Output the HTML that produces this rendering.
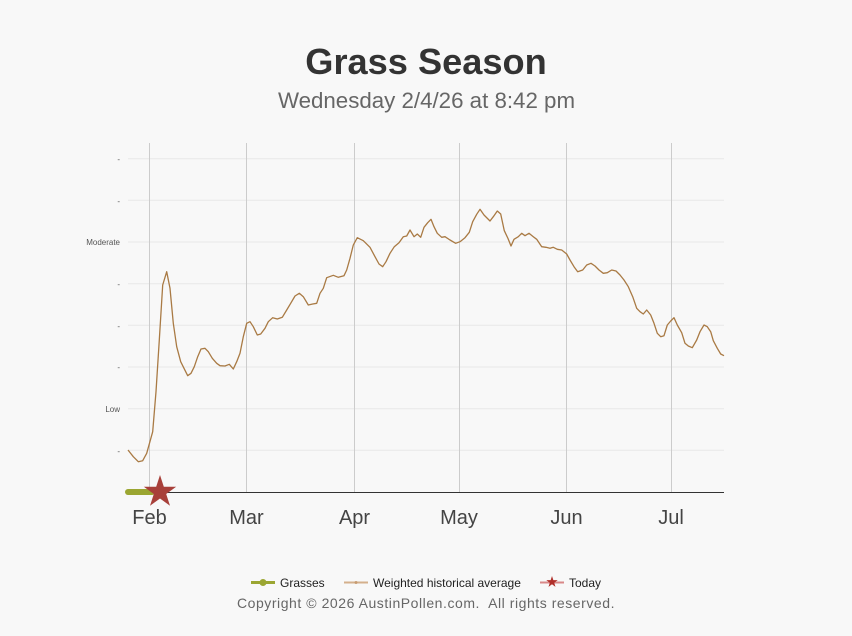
<!DOCTYPE html>
<html><head><meta charset="utf-8"><style>
html,body{margin:0;padding:0;background:#f8f8f8;}
svg{display:block;font-family:"Liberation Sans",Arial,sans-serif;}
</style></head><body>
<svg width="852" height="636" viewBox="0 0 852 636" xmlns="http://www.w3.org/2000/svg">
<rect width="852" height="636" fill="#f8f8f8"/>
<text x="426" y="74" text-anchor="middle" font-size="36.2" font-weight="bold" fill="#333">Grass Season</text>
<text x="426.5" y="108" text-anchor="middle" font-size="22.3" fill="#666">Wednesday 2/4/26 at 8:42 pm</text>
<g stroke="#e8e8e8" stroke-width="1">
<line x1="128" y1="158.7" x2="724" y2="158.7"/>
<line x1="128" y1="200.3" x2="724" y2="200.3"/>
<line x1="128" y1="242" x2="724" y2="242"/>
<line x1="128" y1="283.7" x2="724" y2="283.7"/>
<line x1="128" y1="325.3" x2="724" y2="325.3"/>
<line x1="128" y1="367" x2="724" y2="367"/>
<line x1="128" y1="408.7" x2="724" y2="408.7"/>
<line x1="128" y1="450.3" x2="724" y2="450.3"/>
</g>
<g stroke="#cccccc" stroke-width="1">
<line x1="149.5" y1="143" x2="149.5" y2="492"/>
<line x1="246.5" y1="143" x2="246.5" y2="492"/>
<line x1="354.5" y1="143" x2="354.5" y2="492"/>
<line x1="459.5" y1="143" x2="459.5" y2="492"/>
<line x1="566.5" y1="143" x2="566.5" y2="492"/>
<line x1="671.5" y1="143" x2="671.5" y2="492"/>
</g>
<g font-size="8" fill="#555" text-anchor="end">
<text x="120" y="162">-</text>
<text x="120" y="204">-</text>
<text x="120" y="245">Moderate</text>
<text x="120" y="287">-</text>
<text x="120" y="329">-</text>
<text x="120" y="370">-</text>
<text x="120" y="412">Low</text>
<text x="120" y="454">-</text>
</g>
<line x1="128" y1="492.5" x2="724" y2="492.5" stroke="#333" stroke-width="1"/>
<polyline fill="none" stroke="#a97a44" stroke-width="1.3" stroke-linejoin="round" points="
128,450 133.3,456.7 138.3,461.7 142.7,460.7 146.7,453.3 152.7,431.7 156,391.7 159.3,340 162.7,285 166.7,271.7 170,288.3 173.3,323.3 176.7,346.7 180.7,361.7 184,368.3 187.7,375.7 191,373.3 194.3,366.7 197.7,356.7 201,349 205,348.3 208.3,351.7 212.3,358.3 216.7,363.3 220,365.7 225,366 229.3,364.3 233.3,369 236.7,361.7 240,353.3 243.3,336.7 246.7,323.3 250,321.7 253.3,326.7 257.3,335 260.7,334 265,328.3 268.3,321.7 272.7,317.7 277.3,319 282.3,317.3 286.7,310 290.7,303.3 295,296 299.3,293.3 303.3,296.7 308.3,305 312.7,304 316.7,303.3 320,293.3 323.3,288.3 326.7,277.7 333.3,275.3 338.3,277.3 344,275.7 346.7,270 350,258.3 353.3,245 357.3,237.7 363.3,240.7 370,247.3 375,256.7 379,264 382.7,266.7 386,261.7 390,253.3 394.3,246.7 399,242.7 403.3,236.7 406.7,236 410,230 414,236.7 417.3,234 420.7,237.3 424,227.3 427.7,222.7 431,219.3 434,226.7 437.3,233.3 441.7,237.3 445,236.7 450,240 455.7,243.3 460,241.7 465,237.7 469.3,232.3 472.7,221.7 476.7,214.3 480,209.3 484,215 490,221 493.3,216.7 497.3,211 500.7,214 504.3,230.7 508,238.5 511,246 514,239.3 518.3,236.7 521.7,233.3 525,235.7 529,233.3 533.3,236.7 536.7,239.3 541.7,246.7 546,247.3 550,248.3 553.3,247.3 557.3,249.3 561.7,250 566.7,254 570,260 574,266.7 577.7,271.7 582.7,270 586.7,265 591,263.3 595,266 599,270 603.3,273.3 607.3,272.7 611.7,270 616,271 620,275 624,280 628.3,286.7 632.7,296.7 636.7,308.3 640,311.7 643.3,314 646.7,310 650.7,315 654,323.3 657.3,333.3 660.7,336.7 664,335.7 667.3,325 670.7,321 674,317.7 677.3,325 681.7,332.7 685,343.3 688.3,346 692.3,347.7 696.7,340 700,331.7 704,325 707.3,326.7 710.7,331.7 713.3,340.7 717.3,348.3 720.7,354 724,355.7"/>
<line x1="128" y1="492" x2="152" y2="492" stroke="#9ba632" stroke-width="6" stroke-linecap="round"/>
<polygon fill="#a8403a" points="160,475 163.82,486.74 176.17,486.75 166.18,494.01 170,505.75 160,498.5 150,505.75 153.82,494.01 143.83,486.75 156.18,486.74"/>
<g font-size="20" fill="#444" text-anchor="middle">
<text x="149.5" y="524">Feb</text>
<text x="246.5" y="524">Mar</text>
<text x="354.5" y="524">Apr</text>
<text x="459" y="524">May</text>
<text x="566.5" y="524">Jun</text>
<text x="671" y="524">Jul</text>
</g>
<line x1="251" y1="582.5" x2="275" y2="582.5" stroke="#9ba632" stroke-width="3"/>
<circle cx="263" cy="582.5" r="3.5" fill="#9ba632"/>
<text x="280" y="587" font-size="12" fill="#222">Grasses</text>
<line x1="344" y1="582.5" x2="368" y2="582.5" stroke="#d4b08c" stroke-width="2"/>
<circle cx="356" cy="582.5" r="1.5" fill="#c79c70"/>
<text x="373" y="587" font-size="12" fill="#222">Weighted historical average</text>
<line x1="540" y1="582.5" x2="564" y2="582.5" stroke="#d98888" stroke-width="2"/>
<polygon fill="#b0302a" points="552,576 553.35,580.14 557.7,580.1 554.19,582.71 555.5,586.9 552,584.3 548.5,586.9 549.81,582.71 546.3,580.1 550.65,580.14"/>
<text x="569" y="587" font-size="12" fill="#222">Today</text>
<text x="426" y="608" text-anchor="middle" font-size="14" letter-spacing="0.55" fill="#666">Copyright © 2026 AustinPollen.com.&#160; All rights reserved.</text>
</svg>
</body></html>
